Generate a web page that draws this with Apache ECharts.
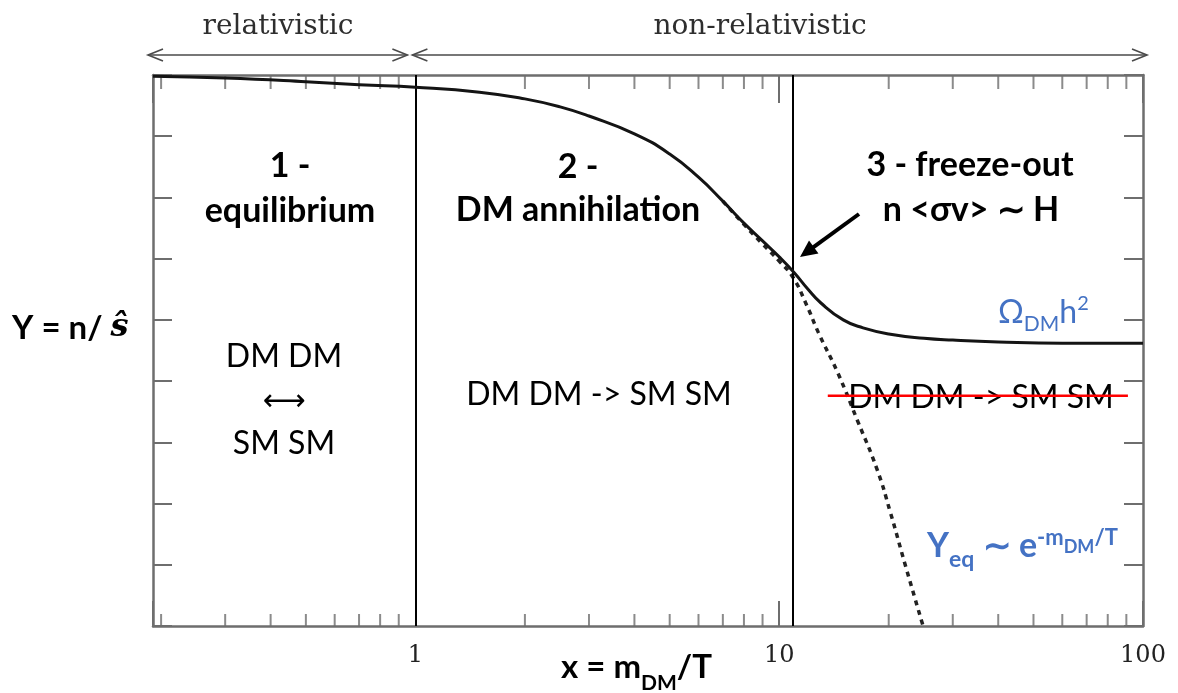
<!DOCTYPE html>
<html><head><meta charset="utf-8">
<script src="https://cdn.jsdelivr.net/npm/echarts@6/dist/echarts.min.js"></script>
<style>html,body{margin:0;padding:0;background:#fff}#c{width:1178px;height:693px}</style>
</head><body><div id="c"></div>
<script>
// ---- data ----
const solidX = [0.19,0.3,0.5,0.7,1,1.5,2,2.5,3,4,5,6,7,8,9,10,11,12,13,15,17,20,25,30,40,60,100];
const solidY = [8.98,8.95,8.89,8.84,8.80,8.72,8.61,8.48,8.33,8.04,7.71,7.33,6.94,6.58,6.29,6.03,5.77,5.50,5.28,5.00,4.87,4.77,4.70,4.67,4.64,4.62,4.62];
const eqX = [7,8,9,10,10.9,11.9,12.8,14.5,16.4,18.6,20.2,22.2,24.8];
const eqY = [6.94,6.56,6.24,5.96,5.70,5.24,4.80,4.13,3.36,2.55,1.86,1.00,0.02];
const phaseBounds = [1, 10.9];
const xLabelValues = [1, 10, 100];
const minorTicks = [0.2,0.3,0.4,0.5,0.6,0.7,0.8,0.9,2,3,4,5,6,7,8,9,20,30,40,50,60,70,80,90];
const xMin = 0.19, xMax = 100, yMin = 0, yMax = 9;
const strikeX = [13.6, 90.9], strikeY = 3.76;

const FRAME = '#6e6e6e', BLUE = '#4472C4';
const chart = echarts.init(document.getElementById('c'), null, {renderer:'canvas'});

function fmt(v){
  for (const t of xLabelValues) if (Math.abs(v - t) < 1e-6 * t) return String(t);
  return '';
}
const xAxisBase = {
  type:'log', logBase:10, min:xMin, max:xMax,
  axisLine:{show:true, onZero:false, lineStyle:{color:FRAME, width:2.5}},
  splitLine:{show:false}, minorTick:{show:false}
};
const yAxisBase = {
  type:'value', min:yMin, max:yMax, interval:1,
  axisLine:{show:true, onZero:false, lineStyle:{color:FRAME, width:2.5}},
  axisTick:{show:true, inside:true, length:19, lineStyle:{color:FRAME, width:2}},
  axisLabel:{show:false}, splitLine:{show:false}
};

chart.setOption({
  animation:false,
  backgroundColor:'#fff',
  grid:{left:153, top:75, width:990, height:551, containLabel:false},
  xAxis:[
    Object.assign({}, xAxisBase, {position:'bottom',
      axisTick:{show:true, inside:true, length:25, lineStyle:{color:FRAME, width:2}},
      axisLabel:{show:true, formatter:fmt, fontFamily:'DejaVu Serif', fontSize:24, color:'#222', margin:18}}),
    Object.assign({}, xAxisBase, {position:'top',
      axisTick:{show:true, inside:true, length:28, lineStyle:{color:FRAME, width:2}},
      axisLabel:{show:false}})
  ],
  yAxis:[
    Object.assign({}, yAxisBase, {position:'left'}),
    Object.assign({}, yAxisBase, {position:'right'})
  ],
  series:[
    {type:'line', name:'Y', data: solidX.map((x,i)=>[x, solidY[i]]),
     smooth:0.5, symbol:'none', silent:true, z:5,
     lineStyle:{color:'#141414', width:3},
     markLine:{silent:true, symbol:['none','none'], label:{show:false},
       lineStyle:{color:'#000', width:2, type:'solid'},
       data: phaseBounds.map(v=>({xAxis:v}))}},
    {type:'line', name:'Yeq', data: eqX.map((x,i)=>[x, eqY[i]]),
     smooth:0.5, symbol:'none', silent:true, z:4,
     lineStyle:{color:'#222', width:3.5, type:[5,5]}},
    {type:'scatter', data: minorTicks.map(v=>[v, yMin]), symbol:'rect', symbolSize:[2,12],
     symbolOffset:[0,-6], itemStyle:{color:FRAME}, silent:true, clip:false, z:3},
    {type:'scatter', data: minorTicks.map(v=>[v, yMax]), symbol:'rect', symbolSize:[2,14],
     symbolOffset:[0,7], itemStyle:{color:FRAME}, silent:true, clip:false, z:3}
  ]
});

// ---- annotations ----
const ctx = document.createElement('canvas').getContext('2d');
function runs(parts, x, y, align){
  const w = parts.map(p => { ctx.font = p[1]; return ctx.measureText(p[0]).width; });
  const total = w.reduce((a,b)=>a+b, 0);
  let cx = align === 'center' ? x - total/2 : (align === 'right' ? x - total : x);
  return parts.map((p,i) => {
    const el = {type:'text', x:cx, y:y + (p[3]||0), z:100, silent:true,
      style:{text:p[0], font:p[1], fill:p[2], align:'left', verticalAlign:'middle',
             textAlign:'left', textVerticalAlign:'middle'}};
    cx += w[i];
    return el;
  });
}
const B34 = 'bold 34px Lato', R32 = '32px Lato';
const px = (x,y) => chart.convertToPixel({gridIndex:0}, [x,y]);

const g = [];
// top range arrows
const xa = px(xMin, yMax)[0], x1 = px(1, yMax)[0], xb = px(xMax, yMax)[0];
const ay = 55;
function rangeArrow(xl, xr){
  const st = {stroke:'#4a4a4a', lineWidth:1.6, fill:null};
  g.push({type:'line', z:50, silent:true, shape:{x1:xl, y1:ay, x2:xr, y2:ay}, style:st});
  g.push({type:'polyline', z:50, silent:true, shape:{points:[[xl+15,ay-6],[xl,ay],[xl+15,ay+6]]}, style:st});
  g.push({type:'polyline', z:50, silent:true, shape:{points:[[xr-15,ay-6],[xr,ay],[xr-15,ay+6]]}, style:st});
}
rangeArrow(xa - 5, x1 - 8);
rangeArrow(x1 - 3, xb + 4);
const serifTop = '28px "DejaVu Serif"';
g.push(...runs([['relativistic', serifTop, '#2e2e2e']], 278, 27, 'center'));
g.push(...runs([['non-relativistic', serifTop, '#2e2e2e']], 760, 27, 'center'));

// region 1
g.push(...runs([['1 -', B34, '#000']], 290, 166, 'center'));
g.push(...runs([['equilibrium', B34, '#000']], 290, 211, 'center'));
g.push(...runs([['DM DM', R32, '#000']], 284, 357, 'center'));
g.push(...runs([['⟷', '30px "DejaVu Sans"', '#000']], 284, 402, 'center'));
g.push(...runs([['SM SM', R32, '#000']], 284, 444, 'center'));
// region 2
g.push(...runs([['2 -', B34, '#000']], 578, 167, 'center'));
g.push(...runs([['DM annihilation', B34, '#000']], 578, 210, 'center'));
g.push(...runs([['DM DM -> SM SM', R32, '#000']], 599, 395, 'center'));
// region 3
g.push(...runs([['3 - freeze-out', B34, '#000']], 970, 165, 'center'));
g.push(...runs([['n <σv> ∼ H', B34, '#000']], 971, 210, 'center'));
g.push(...runs([['DM DM -> SM SM', R32, '#000']], 981, 398, 'center'));
const s1 = px(strikeX[0], strikeY), s2 = px(strikeX[1], strikeY);
g.push({type:'line', z:110, silent:true, shape:{x1:s1[0], y1:s1[1], x2:s2[0], y2:s2[1]},
        style:{stroke:'#ff0000', lineWidth:2.5}});
// freeze-out arrow
const tip = [800, 257], tail = [859, 214];
{
  const dx = tip[0]-tail[0], dy = tip[1]-tail[1], L = Math.hypot(dx,dy);
  const ux = dx/L, uy = dy/L, hl = 17, hw = 8;
  const bx = tip[0]-ux*hl, by = tip[1]-uy*hl;
  g.push({type:'line', z:60, silent:true, shape:{x1:tail[0], y1:tail[1], x2:bx+ux*2, y2:by+uy*2},
          style:{stroke:'#000', lineWidth:4}});
  g.push({type:'polygon', z:60, silent:true,
          shape:{points:[tip, [bx - uy*hw, by + ux*hw], [bx + uy*hw, by - ux*hw]]},
          style:{fill:'#000'}});
}
// blue labels
g.push(...runs([['Ω', '32px Lato', BLUE, 0], ['DM', '21px Lato', BLUE, 11], ['h', '32px Lato', BLUE, 0], ['2', '20px Lato', BLUE, -9]], 998, 313, 'left'));
g.push(...runs([['Y', B34, BLUE, 0], ['eq', 'bold 23px Lato', BLUE, 14], [' ∼ ', B34, BLUE, 0], ['e', B34, BLUE, 0],
                ['-m', 'bold 22px Lato', BLUE, -8], ['DM', 'bold 18px Lato', BLUE, 1], ['/T', 'bold 22px Lato', BLUE, -8]], 927, 546, 'left'));
// axis titles
g.push(...runs([['Y = n/ ', 'bold 33px Lato', '#000', 0], ['ŝ', 'bold italic 32px "DejaVu Serif"', '#000', 0]], 12, 328, 'left'));
g.push(...runs([['x = m', 'bold 33px Lato', '#000', 0], ['DM', 'bold 21px Lato', '#000', 16], ['/T', 'bold 33px Lato', '#000', 0]], 561, 667, 'left'));

chart.setOption({graphic:{elements:g}});
</script></body></html>
